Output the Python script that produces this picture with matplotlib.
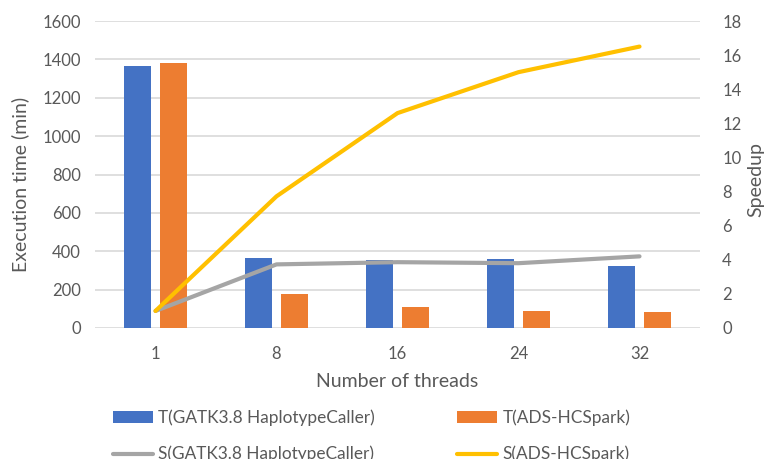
import matplotlib
matplotlib.use("Agg")
import matplotlib.pyplot as plt
import numpy as np
from matplotlib.patches import Patch
from matplotlib.lines import Line2D

plt.rcParams['font.family'] = ['Lato', 'DejaVu Sans']

threads = ["1", "8", "16", "24", "32"]
time_gatk = [1367, 366, 354, 360, 325]
time_ads = [1383, 177, 108, 91, 83]
speedup_gatk = [1.0, 3.73, 3.86, 3.8, 4.2]
speedup_ads = [1.0, 7.72, 12.6, 15.0, 16.5]

BLUE = "#4472C4"
ORANGE = "#ED7D31"
GRAY = "#A5A5A5"
YELLOW = "#FFC000"
TXT = "#595959"
GRID = "#D9D9D9"

fig = plt.figure(figsize=(7.66, 4.59), dpi=100)
ax = fig.add_axes([95 / 766, 1 - 328 / 459, 605 / 766, 307 / 459])
ax2 = ax.twinx()

x = np.arange(len(threads))
w = 0.223
off = 0.145
ax.bar(x - off, time_gatk, w, color=BLUE, zorder=2)
ax.bar(x + off, time_ads, w, color=ORANGE, zorder=2)

ax.set_xlim(-0.5, len(threads) - 0.5)
ax.set_ylim(0, 1600)
ax.set_yticks(np.arange(0, 1601, 200))
ax.yaxis.grid(True, color=GRID, linewidth=1.2, zorder=0)
ax.set_axisbelow(True)

ax2.plot(x, speedup_gatk, color=GRAY, lw=3.0, solid_capstyle='round', solid_joinstyle='round', zorder=3)
ax2.plot(x, speedup_ads, color=YELLOW, lw=3.0, solid_capstyle='round', solid_joinstyle='round', zorder=4)
ax2.set_ylim(0, 18)
ax2.set_yticks(np.arange(0, 19, 2))

for a in (ax, ax2):
    for s in a.spines.values():
        s.set_visible(False)
    a.tick_params(length=0, colors=TXT, labelsize=12)

ax.set_xticks(x)
ax.set_xticklabels(threads)
ax.tick_params(axis='x', pad=13)
ax.tick_params(axis='y', pad=10)
ax2.tick_params(axis='y', pad=16)

ax.set_xlabel("Number of threads", fontsize=14, color=TXT, labelpad=8)
ax.set_ylabel("Execution time (min)", fontsize=14, color=TXT, va='center', ha='center')
ax.yaxis.set_label_coords(-0.124, 0.469)
ax2.set_ylabel("Speedup", fontsize=14, color=TXT, rotation=90, va='center', ha='center')
ax2.yaxis.set_label_coords(1.0926, 0.485)

handles = [
    Patch(facecolor=BLUE, edgecolor='none'),
    Line2D([], [], color=GRAY, lw=3.0, solid_capstyle='round'),
    Patch(facecolor=ORANGE, edgecolor='none'),
    Line2D([], [], color=YELLOW, lw=3.0, solid_capstyle='round'),
]
labels = [
    "T(GATK3.8 HaplotypeCaller)",
    "S(GATK3.8 HaplotypeCaller)",
    "T(ADS-HCSpark)",
    "S(ADS-HCSpark)",
]
leg = fig.legend(handles, labels, ncol=2, loc='upper left',
                 bbox_to_anchor=(97 / 766, 1 - 394 / 459),
                 frameon=False, fontsize=12.4, labelcolor=TXT,
                 handlelength=2.35, handleheight=0.65, handletextpad=0.3,
                 columnspacing=4.75, labelspacing=1.15)

fig.savefig("out.png", dpi=100)
